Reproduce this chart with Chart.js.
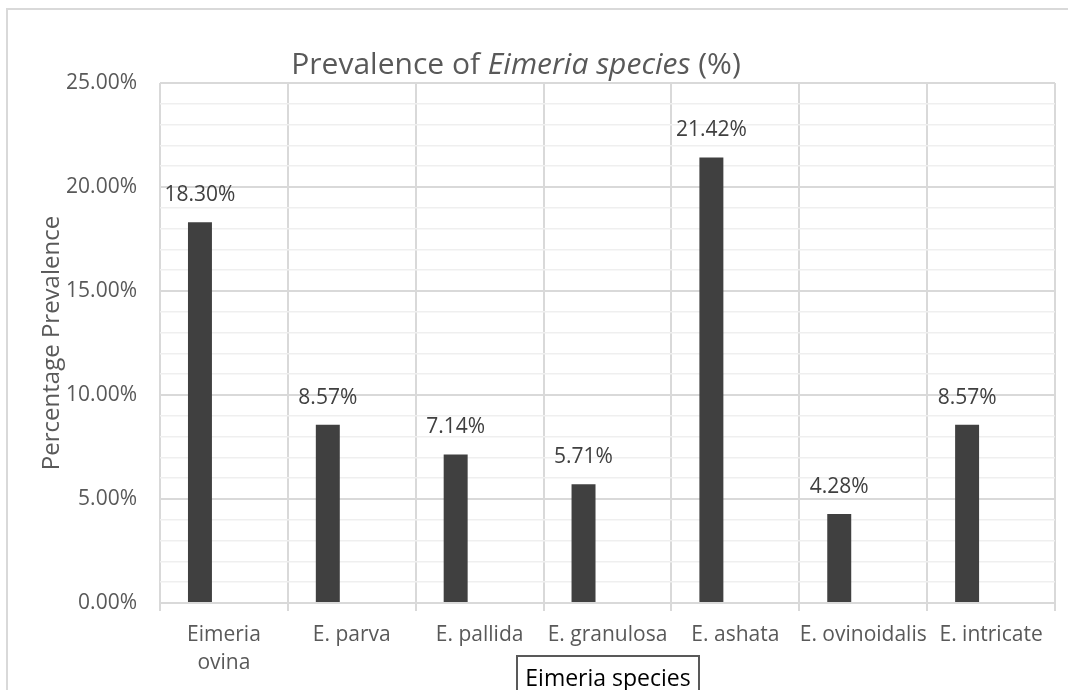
<!DOCTYPE html>
<html>
<head>
<meta charset="utf-8">
<script src="https://cdn.jsdelivr.net/npm/chart.js@4.4.1/dist/chart.umd.min.js"></script>
<style>
  html, body { margin: 0; padding: 0; background: #ffffff; }
  #wrap { position: relative; width: 1068px; height: 690px; overflow: hidden; font-family: "Open Sans", sans-serif; background: #fff; }
  #frame { position: absolute; left: 6px; top: 8px; width: 1120px; height: 740px; border: 2px solid #d9d9d9; box-sizing: border-box; }
  #chart { position: absolute; left: 0; top: 0; }
  #title { position: absolute; left: 0; width: 1032px; top: 44px; text-align: center; font-size: 30px; line-height: 38px; color: #595959; white-space: nowrap; }
  #xtitle { position: absolute; left: 516px; top: 655px; width: 184px; height: 60px; border: 2px solid #595959; box-sizing: border-box; font-size: 23px; line-height: 40px; color: #000; text-align: center; white-space: nowrap; }
</style>
</head>
<body>
<div id="wrap">
  <div id="frame"></div>
  <canvas id="chart" width="1068" height="690"></canvas>
  <div id="title">Prevalence of <i>Eimeria species</i> (%)</div>
  <div id="xtitle">Eimeria species</div>
</div>
<script>
// ---- data ----
const categories = [["Eimeria", "ovina"], "E. parva", "E. pallida", "E. granulosa", "E. ashata", "E. ovinoidalis", "E. intricate"];
const prevalence = [18.30, 8.57, 7.14, 5.71, 21.42, 4.28, 8.57];
const emptySeries2 = [null, null, null, null, null, null, null];
const emptySeries3 = [null, null, null, null, null, null, null];
const yMin = 0;
const yMax = 25;
const yMajorStep = 5;
const yMinorStep = 1;
const yAxisTitle = "Percentage Prevalence";

Chart.defaults.font.family = '"Open Sans", sans-serif';

const barLabels = {
  id: "barLabels",
  afterDatasetsDraw(chart) {
    const ctx = chart.ctx;
    const meta = chart.getDatasetMeta(0);
    ctx.save();
    ctx.font = '21px "Open Sans", sans-serif';
    ctx.fillStyle = "#404040";
    ctx.textAlign = "center";
    ctx.textBaseline = "middle";
    meta.data.forEach((bar, i) => {
      ctx.fillText(prevalence[i].toFixed(2) + "%", bar.x, bar.y - 27);
    });
    ctx.restore();
  }
};

new Chart(document.getElementById("chart"), {
  type: "bar",
  data: {
    labels: categories,
    datasets: [
      { data: prevalence, backgroundColor: "#404040", borderWidth: 0 },
      { data: emptySeries2, backgroundColor: "#404040" },
      { data: emptySeries3, backgroundColor: "#404040" }
    ]
  },
  options: {
    responsive: false,
    animation: false,
    devicePixelRatio: 1,
    categoryPercentage: 0.5625,
    barPercentage: 1,
    layout: { padding: { top: 83, right: 13, bottom: 0, left: 0 } },
    plugins: { legend: { display: false }, tooltip: { enabled: false }, title: { display: false } },
    scales: {
      x: {
        grid: { offset: true, color: "#d9d9d9", lineWidth: 2, drawTicks: true, tickLength: 8 },
        border: { color: "#d9d9d9", width: 2 },
        ticks: { color: "#595959", font: { size: 21, lineHeight: 1.33 }, maxRotation: 0, minRotation: 0, autoSkip: false, padding: 10 },
        afterFit(scale) { scale.height = 87; }
      },
      y: {
        min: yMin,
        max: yMax,
        grid: {
          drawTicks: false,
          color: c => (c.tick.value % yMajorStep === 0 ? "#d9d9d9" : "#efefef"),
          lineWidth: c => (c.tick.value % yMajorStep === 0 ? 2 : 1.5)
        },
        border: { display: false },
        ticks: {
          stepSize: yMinorStep,
          autoSkip: false,
          padding: 23,
          color: "#595959",
          font: { size: 21 },
          callback: v => (v % yMajorStep === 0 ? v.toFixed(2) + "%" : "")
        },
        title: { display: true, text: yAxisTitle, color: "#595959", font: { size: 24 }, padding: { top: 38, bottom: 0 } },
        afterFit(scale) { scale.width = 160; }
      }
    }
  },
  plugins: [barLabels]
});
</script>
</body>
</html>
